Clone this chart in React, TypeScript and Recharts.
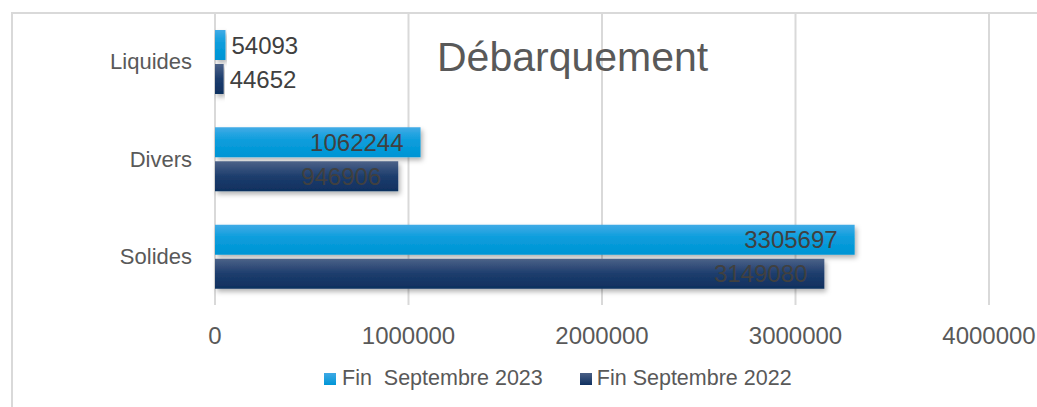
import React from 'react';
import { Bar, BarChart, CartesianGrid, LabelList, XAxis, YAxis } from 'recharts';

const categories = ['Liquides', 'Divers', 'Solides'];
const values2023 = [54093, 1062244, 3305697];
const values2022 = [44652, 946906, 3149080];
const xTicks = [0, 1000000, 2000000, 3000000, 4000000];
const seriesNames = ['Fin  Septembre 2023', 'Fin Septembre 2022'];

const FONT = '"Liberation Sans", Arial, sans-serif';
const GREY = '#595959';

const data = categories.map((name, i) => ({
  name,
  y2023: values2023[i],
  y2022: values2022[i],
}));

// small bars get the label outside, long ones inside the end
const BarLabel = (props: any) => {
  const { x, y, width, height, value } = props;
  const outside = width < 100;
  return (
    <text
      x={outside ? x + width + 6 : x + width - 17}
      y={y + height / 2}
      textAnchor={outside ? 'start' : 'end'}
      dominantBaseline="central"
      fill="#404040"
      fontSize={24}
      fontFamily={FONT}
    >
      {value}
    </text>
  );
};

const XTick = (props: any) => {
  const { x, y, payload } = props;
  return (
    <text x={x} y={y + 22} textAnchor="middle" dominantBaseline="central" fill={GREY} fontSize={24} fontFamily={FONT}>
      {payload.value}
    </text>
  );
};

const YTick = (props: any) => {
  const { x, y, payload } = props;
  return (
    <text x={x - 15} y={y} textAnchor="end" dominantBaseline="central" fill={GREY} fontSize={22} fontFamily={FONT}>
      {payload.value}
    </text>
  );
};

const ChartLegend = () => (
  <div
    style={{
      position: 'absolute',
      left: 324,
      top: 366,
      display: 'flex',
      alignItems: 'center',
      fontFamily: FONT,
      fontSize: 21.5,
      color: GREY,
    }}
  >
    <span style={{ width: 12, height: 12, background: 'linear-gradient(#3fa9e5, #0096d6)', display: 'inline-block' }} />
    <span style={{ marginLeft: 6, whiteSpace: 'pre' }}>{seriesNames[0]}</span>
    <span
      style={{ width: 12, height: 12, marginLeft: 37, background: 'linear-gradient(#4a5f85, #0f3060)', display: 'inline-block' }}
    />
    <span style={{ marginLeft: 5, whiteSpace: 'pre' }}>{seriesNames[1]}</span>
  </div>
);

export default function App() {
  return (
    <div style={{ position: 'absolute', left: 0, top: 0, width: 1037, height: 407, overflow: 'hidden', background: '#fff' }}>
      <div
        style={{
          position: 'absolute',
          left: 11,
          top: 12,
          width: 1100,
          height: 500,
          border: '2px solid #d9d9d9',
        }}
      />
      <div style={{ position: 'absolute', left: 0, top: 0 }}>
        <BarChart
          width={1037}
          height={407}
          data={data}
          layout="vertical"
          margin={{ top: 13, right: 48, bottom: 62, left: 0 }}
          barSize={30}
          barGap={4}
        >
          <defs>
            <linearGradient id="g2023" x1="0" y1="0" x2="0" y2="1">
              <stop offset="0%" stopColor="#41abe6" />
              <stop offset="45%" stopColor="#0a9ddc" />
              <stop offset="100%" stopColor="#0094d4" />
            </linearGradient>
            <linearGradient id="g2022" x1="0" y1="0" x2="0" y2="1">
              <stop offset="0%" stopColor="#4c6288" />
              <stop offset="50%" stopColor="#1d3d6d" />
              <stop offset="100%" stopColor="#0f305f" />
            </linearGradient>
            <filter id="shadow" x="-5%" y="-30%" width="115%" height="180%">
              <feDropShadow dx="2" dy="3" stdDeviation="2.5" floodColor="#000" floodOpacity="0.3" />
            </filter>
          </defs>
          <CartesianGrid horizontal={false} stroke="#d9d9d9" strokeWidth={2} />
          <XAxis
            type="number"
            domain={[0, 4000000]}
            ticks={xTicks}
            axisLine={false}
            tickLine={false}
            tick={<XTick />}
            interval={0}
            height={40}
          />
          <YAxis type="category" dataKey="name" width={215} axisLine={false} tickLine={false} tick={<YTick />} />
          <Bar dataKey="y2023" name={seriesNames[0]} fill="url(#g2023)" filter="url(#shadow)" isAnimationActive={false}>
            <LabelList dataKey="y2023" content={<BarLabel />} />
          </Bar>
          <Bar dataKey="y2022" name={seriesNames[1]} fill="url(#g2022)" filter="url(#shadow)" isAnimationActive={false}>
            <LabelList dataKey="y2022" content={<BarLabel />} />
          </Bar>
        </BarChart>
      </div>
      <ChartLegend />
      <div
        style={{
          position: 'absolute',
          left: 437,
          top: 37,
          fontFamily: FONT,
          fontSize: 41,
          lineHeight: '41px',
          color: GREY,
          whiteSpace: 'nowrap',
        }}
      >
        Débarquement
      </div>
    </div>
  );
}
